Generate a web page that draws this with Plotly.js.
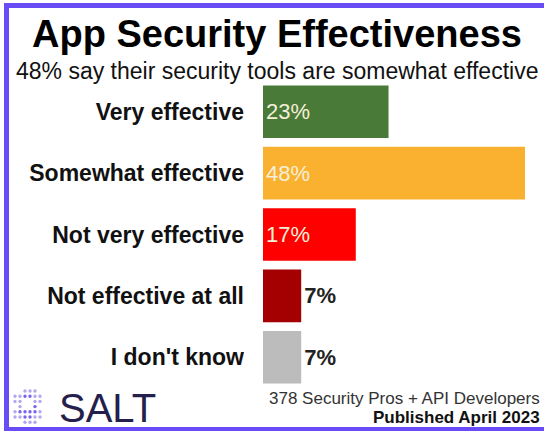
<!DOCTYPE html>
<html>
<head>
<meta charset="utf-8">
<script src="https://cdn.plot.ly/plotly-3.0.1.min.js"></script>
<style>
  html, body { margin: 0; padding: 0; background: #ffffff; }
  #chart { width: 544px; height: 432px; }
</style>
</head>
<body>
<div id="chart"></div>
<script>
// ---- data ----
const categories = ['Very effective', 'Somewhat effective', 'Not very effective', 'Not effective at all', "I don't know"];
const values = [23, 48, 17, 7, 7];
const titleText = 'App Security Effectiveness';
const subtitleText = '48% say their security tools are somewhat effective';
const sampleText = '378 Security Pros + API Developers';
const publishedText = 'Published April 2023';
const brandText = 'SALT';

// ---- styles ----
const barColors = ['#4a7a37', '#fbb130', '#fe0000', '#a40002', '#bcbcbc'];
const FONT = 'Liberation Sans, Arial, Helvetica, sans-serif';
const BORDER = '#6a4cf6';

// layout geometry (pixels)
const W = 544, H = 432;
const M = {l: 263, r: 19, t: 81, b: 44};
const PW = W - M.l - M.r, PH = H - M.t - M.b;
const xp = px => (px - M.l) / PW;
const yp = py => (H - M.b - py) / PH;

const insideIdx = values.map(v => v >= 10);
const barText = values.map((v, i) => insideIdx[i] ? v + '%' : '<b>' + v + '%</b>');
const textPos = values.map((v, i) => insideIdx[i] ? 'inside' : 'outside');
const textCol = values.map((v, i) => insideIdx[i] ? '#f4efd8' : '#222222');

const trace = {
  type: 'bar',
  orientation: 'h',
  y: categories,
  x: values,
  marker: {color: barColors, line: {width: 0}},
  text: barText,
  textposition: textPos,
  insidetextanchor: 'start',
  textfont: {family: FONT, size: 22, color: textCol},
  cliponaxis: false,
  hoverinfo: 'none'
};

// border + logo shapes
const shapes = [];
function rectPx(x0, y0, x1, y1, color) {
  shapes.push({type: 'rect', xref: 'paper', yref: 'paper',
    x0: xp(x0), x1: xp(x1), y0: yp(y1), y1: yp(y0),
    fillcolor: color, line: {width: 0}, layer: 'above'});
}
rectPx(4, 3, 9, 431, BORDER);
rectPx(4, 3, 544, 8, BORDER);
rectPx(4, 427, 544, 431, BORDER);

// logo dot grid (decoration)
const dotPattern = [
  '..LLL.',
  'LLDDLL',
  'LL..LL',
  '.L..D.',
  'LDDDDL',
  'LLDDLL',
  '..LLL.'
];
dotPattern.forEach((row, r) => {
  row.split('').forEach((c, k) => {
    if (c === '.') return;
    const cx = 15 + 5 * k, cy = 391 + 5.2 * r, rad = 1.7;
    shapes.push({type: 'circle', xref: 'paper', yref: 'paper',
      x0: xp(cx - rad), x1: xp(cx + rad), y0: yp(cy + rad), y1: yp(cy - rad),
      fillcolor: c === 'D' ? '#7a62ec' : '#b2a7f0', line: {width: 0}, layer: 'above'});
  });
});

const annotations = [
  {text: '<b>' + titleText + '</b>', xref: 'paper', yref: 'paper', x: xp(277), y: yp(34),
   xanchor: 'center', yanchor: 'middle', showarrow: false,
   font: {family: FONT, size: 38, color: '#000000'}},
  {text: subtitleText, xref: 'paper', yref: 'paper', x: xp(277), y: yp(70.5),
   xanchor: 'center', yanchor: 'middle', showarrow: false,
   font: {family: FONT, size: 23, color: '#111111'}},
  {text: brandText, xref: 'paper', yref: 'paper', x: xp(57), y: yp(407.5),
   xanchor: 'left', yanchor: 'middle', showarrow: false,
   font: {family: FONT, size: 40, color: '#241f4c'}},
  {text: sampleText, xref: 'paper', yref: 'paper', x: xp(541), y: yp(398.5),
   xanchor: 'right', yanchor: 'middle', showarrow: false, borderpad: 0,
   font: {family: FONT, size: 17, color: '#333333'}},
  {text: '<b>' + publishedText + '</b>', xref: 'paper', yref: 'paper', x: xp(541), y: yp(417.5),
   xanchor: 'right', yanchor: 'middle', showarrow: false, borderpad: 0,
   font: {family: FONT, size: 17, color: '#111111'}}
];

const layout = {
  width: W, height: H,
  margin: M,
  paper_bgcolor: '#ffffff',
  plot_bgcolor: '#ffffff',
  showlegend: false,
  bargap: 0.144,
  xaxis: {range: [0, 48], visible: false, fixedrange: true},
  yaxis: {
    type: 'category', autorange: 'reversed', showgrid: false, zeroline: false,
    showline: false, ticks: '', ticklabelstandoff: 18,
    tickfont: {family: FONT, size: 23, color: '#111111', weight: 'bold'},
    fixedrange: true
  },
  shapes: shapes,
  annotations: annotations
};

Plotly.newPlot('chart', [trace], layout, {displayModeBar: false, staticPlot: true});
</script>
</body>
</html>
